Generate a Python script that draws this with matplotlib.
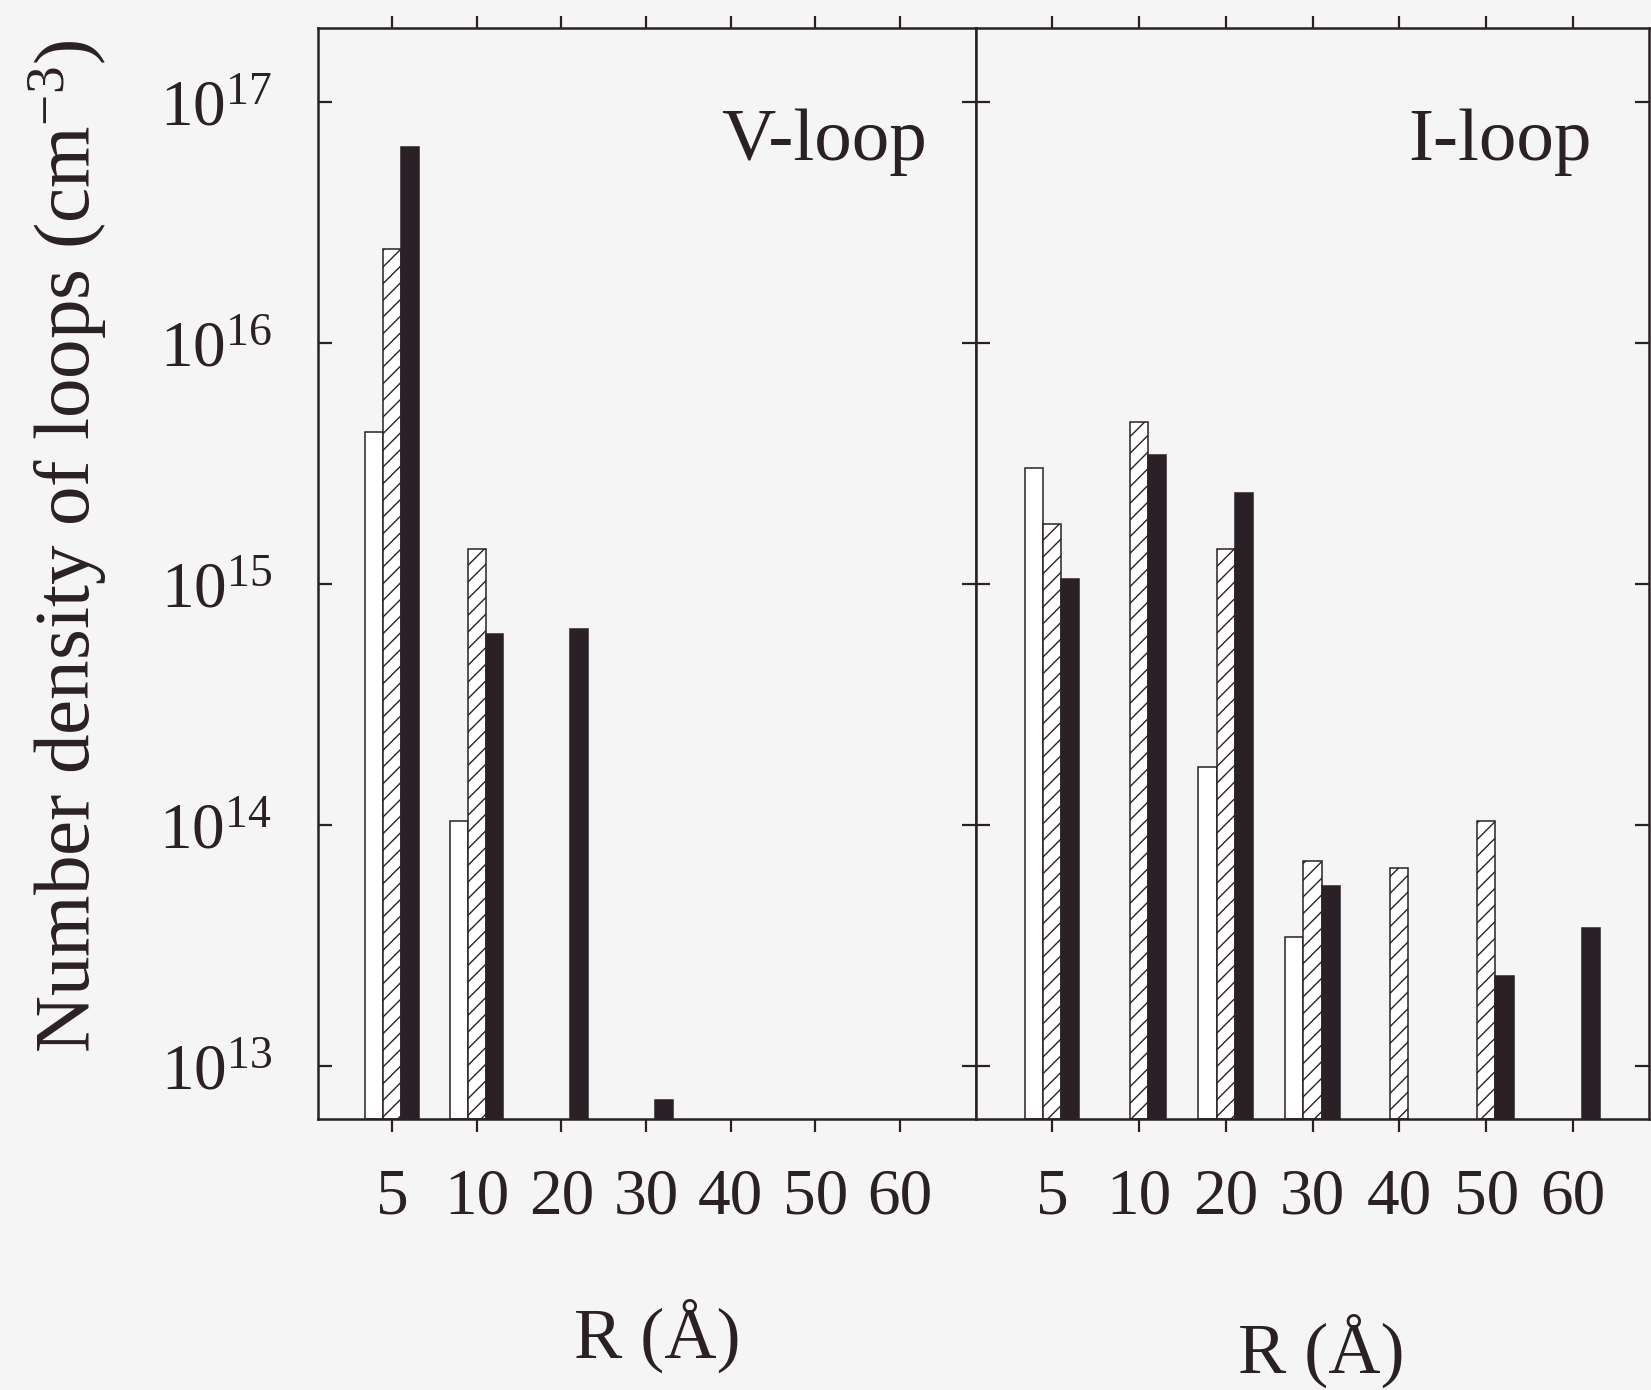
import numpy as np
import matplotlib
matplotlib.use("Agg")
import matplotlib.pyplot as plt
from matplotlib.ticker import FixedLocator, NullLocator

# ---- data: loop number densities (cm^-3) per radius bin ----
radius_labels = ["5", "10", "20", "30", "40", "50", "60"]
nan = np.nan

# V-loop panel
v_open    = [4.25e15, 1.04e14, nan, nan, nan, nan, nan]
v_hatched = [2.45e16, 1.39e15, nan, nan, nan, nan, nan]
v_solid   = [6.5e16, 6.2e14, 6.5e14, 7.2e12, nan, nan, nan]

# I-loop panel
i_open    = [3.04e15, nan, 1.74e14, 3.43e13, nan, nan, nan]
i_hatched = [1.78e15, 4.68e15, 1.40e15, 7.07e13, 6.6e13, 1.04e14, nan]
i_solid   = [1.05e15, 3.43e15, 2.38e15, 5.6e13, nan, 2.37e13, 3.72e13]

y_ticks = [1e13, 1e14, 1e15, 1e16, 1e17]
y_tick_labels = [r"$10^{13}$", r"$10^{14}$", r"$10^{15}$", r"$10^{16}$", r"$10^{17}$"]

# ---- style ----
INK = "#2a2025"
BG = "#f6f5f5"
plt.rcParams["font.family"] = ["Liberation Serif", "DejaVu Serif"]
plt.rcParams["mathtext.fontset"] = "custom"
plt.rcParams["mathtext.rm"] = "Liberation Serif"
plt.rcParams["mathtext.it"] = "Liberation Serif:italic"
plt.rcParams["hatch.linewidth"] = 1.0
plt.rcParams["hatch.color"] = INK

W, H = 1651.0, 1390.0
fig = plt.figure(figsize=(W / 100, H / 100), dpi=100, facecolor=BG)
ax_v = fig.add_axes([0.1926, 0.1950, 0.3985, 0.7849])
ax_i = fig.add_axes([0.5912, 0.1950, 0.4076, 0.7849])

YMIN, YMAX = 10 ** 12.78, 10 ** 17.307
BAR_W = 0.21
OFFSET = 0.21


def draw_panel(ax, open_vals, hatch_vals, solid_vals, xlim):
    ax.set_facecolor(BG)
    ax.set_yscale("log")
    x = np.arange(len(radius_labels))
    series = [
        (open_vals, -OFFSET, dict(facecolor="white", hatch=None)),
        (hatch_vals, 0.0, dict(facecolor="white", hatch="//")),
        (solid_vals, OFFSET, dict(facecolor=INK, hatch=None)),
    ]
    for vals, off, kw in series:
        vals = np.asarray(vals, dtype=float)
        ok = np.isfinite(vals)
        ax.bar(x[ok] + off, vals[ok] - YMIN, bottom=YMIN, width=BAR_W,
               edgecolor=INK, linewidth=1.1, zorder=2, **kw)
    ax.set_xlim(*xlim)
    ax.set_ylim(YMIN, YMAX)
    ax.xaxis.set_major_locator(FixedLocator(x))
    ax.set_xticklabels(radius_labels)
    ax.yaxis.set_major_locator(FixedLocator(y_ticks))
    ax.yaxis.set_minor_locator(NullLocator())
    ax.xaxis.set_minor_locator(NullLocator())
    for sp in ax.spines.values():
        sp.set_linewidth(1.8)
        sp.set_color(INK)
    ax.tick_params(axis="x", which="major", direction="out", length=9, width=1.6,
                   color=INK, top=True, bottom=True, labelsize=47,
                   labelcolor=INK, pad=26)
    ax.tick_params(axis="y", which="major", direction="in", length=10, width=1.6,
                   color=INK, left=True, right=True, labelsize=47,
                   labelcolor=INK, pad=33)


draw_panel(ax_v, v_open, v_hatched, v_solid, (-0.874, 6.898))
draw_panel(ax_i, i_open, i_hatched, i_solid, (-0.875, 6.875))

ax_v.set_yticklabels(y_tick_labels)
ax_i.set_yticklabels([])

# panel titles
fig.text(927 / W, 1 - 160 / H, "V-loop", fontsize=54, color=INK, ha="right", va="baseline")
fig.text(1592 / W, 1 - 160 / H, "I-loop", fontsize=54, color=INK, ha="right", va="baseline")

# axis labels
fig.text(68 / W, 1 - 1053 / H, r"Number density of loops (cm$^{-3}$)", rotation=90,
         fontsize=57, color=INK, ha="center", va="bottom")
fig.text(657 / W, 1 - 1358 / H, "R (Å)", fontsize=52, color=INK, ha="center", va="baseline")
fig.text(1321 / W, 1 - 1373 / H, "R (Å)", fontsize=52, color=INK, ha="center", va="baseline")

fig.savefig("out.png", dpi=100, facecolor=BG)
